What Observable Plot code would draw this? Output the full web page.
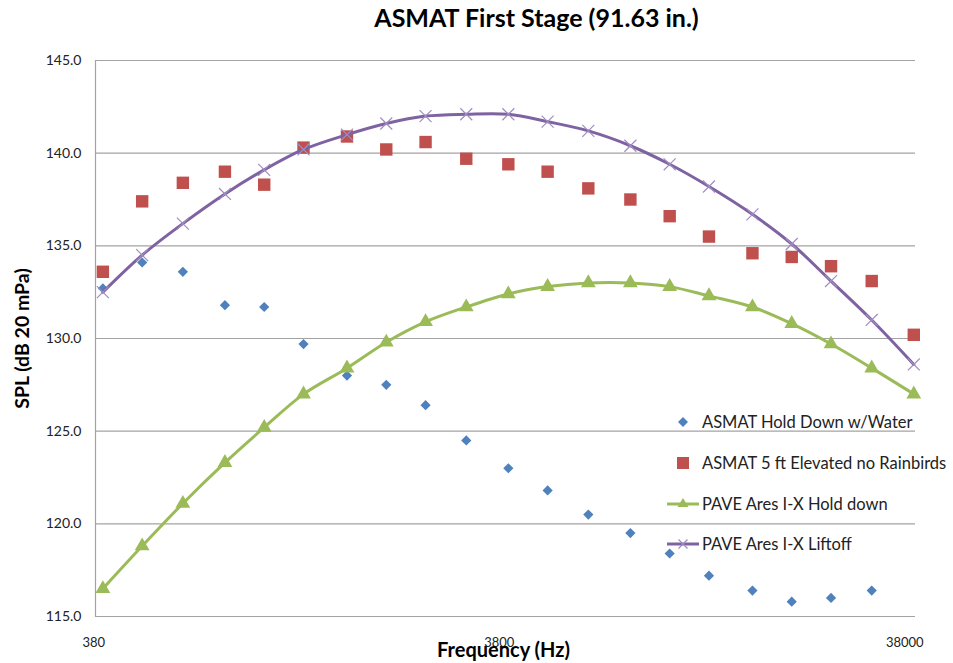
<!DOCTYPE html>
<html><head><meta charset="utf-8">
<script src="https://cdn.jsdelivr.net/npm/d3@7"></script>
<script src="https://cdn.jsdelivr.net/npm/@observablehq/plot@0.6"></script>
<style>
body{margin:0;background:#fff;font-family:Lato,"Open Sans",sans-serif;}
#wrap{position:relative;width:953px;height:663px;overflow:hidden;}
#title{position:absolute;left:536.5px;top:2px;transform:translateX(-50%);white-space:nowrap;font-weight:bold;font-size:25px;color:#000;}
#legend{position:absolute;left:665px;top:0;}
.row{position:absolute;left:0;height:20px;white-space:nowrap;display:flex;align-items:center;font-size:16.5px;color:#222;}
.row svg{display:block;margin-right:1px;}
</style></head>
<body>
<div id="wrap">
<div id="chart"></div>
<div id="title">ASMAT First Stage (91.63 in.)</div>
<div id="legend"></div>
</div>
<script>
// 1/3-octave band centre frequencies (Hz)
const freqs = [400,500,630,800,1000,1250,1600,2000,2500,3150,4000,5000,6300,8000,10000,12500,16000,20000,25000,31500,40000];
// series values (dB)
const holdDownWater = [132.7,134.1,133.6,131.8,131.7,129.7,128.0,127.5,126.4,124.5,123.0,121.8,120.5,119.5,118.4,117.2,116.4,115.8,116.0,116.4,null];
const elevatedNoRainbirds = [133.6,137.4,138.4,139.0,138.3,140.3,140.9,140.2,140.6,139.7,139.4,139.0,138.1,137.5,136.6,135.5,134.6,134.4,133.9,133.1,130.2];
const paveHoldDown = [116.5,118.8,121.1,123.3,125.2,127.0,128.4,129.8,130.9,131.7,132.4,132.8,133.0,133.0,132.8,132.3,131.7,130.8,129.7,128.4,127.0];
const paveLiftoff = [132.5,134.5,136.2,137.8,139.1,140.2,141.0,141.6,142.0,142.1,142.1,141.7,141.2,140.4,139.4,138.2,136.7,135.1,133.1,131.0,128.6];
const seriesNames = ["ASMAT Hold Down w/Water","ASMAT 5 ft Elevated no Rainbirds","PAVE Ares I-X Hold down","PAVE Ares I-X Liftoff"];
const xTicks = [380,3800,38000];
const yTicks = [115,120,125,130,135,140,145];

const toRows = vals => freqs.map((f,i)=>({f, v: vals[i]})).filter(d=>d.v!=null);
const blue = toRows(holdDownWater), red = toRows(elevatedNoRainbirds),
      green = toRows(paveHoldDown), purple = toRows(paveLiftoff);

const C = {blue:"#4F81BD", red:"#C0504D", green:"#9BBB59", purple:"#7F62A1", xmark:"#A08DC0"};

const chart = Plot.plot({
  width:953, height:663,
  marginTop:60, marginBottom:47, marginLeft:95, marginRight:38,
  style:{fontFamily:"Lato, 'Open Sans', sans-serif", background:"#fff", color:"#222"},
  x:{type:"log", domain:[383.6,40390]},
  y:{domain:[115,145]},
  marks:[
    Plot.ruleY(yTicks, {stroke:"#a3a3a3", strokeWidth:1.2}),
    Plot.frame({anchor:"left", stroke:"#a3a3a3", strokeWidth:1.2}),
    Plot.axisY(yTicks, {tickSize:0, tickPadding:14, fontSize:14, tickFormat:d=>d.toFixed(1), label:null}),
    Plot.axisX(xTicks, {tickSize:0, tickPadding:21, fontSize:13, tickFormat:d=>String(d), label:null}),
    Plot.text(["SPL (dB 20 mPa)"], {frameAnchor:"left", textAnchor:"middle", dx:-73, rotate:-90, fontWeight:"bold", fontSize:19.5, fill:"#000"}),
    Plot.text(["Frequency (Hz)"], {frameAnchor:"bottom", textAnchor:"middle", dy:40, dx:-2, fontWeight:"bold", fontSize:20, fill:"#000"}),
    Plot.dot(blue, {x:"f", y:"v", symbol:"diamond2", r:4.6, fill:C.blue, stroke:"none"}),
    Plot.dot(red, {x:"f", y:"v", symbol:"square", r:7, fill:C.red, stroke:"none"}),
    Plot.line(green, {x:"f", y:"v", curve:"catmull-rom", stroke:C.green, strokeWidth:3}),
    Plot.dot(green, {x:"f", y:"v", symbol:"triangle", r:5.5, fill:C.green, stroke:"none"}),
    Plot.line(purple, {x:"f", y:"v", curve:"catmull-rom", stroke:C.purple, strokeWidth:3}),
    Plot.dot(purple, {x:"f", y:"v", symbol:"times", r:5.5, stroke:C.xmark, strokeWidth:1.2})
  ]
});
document.getElementById("chart").appendChild(chart);

// legend
const leg = document.getElementById("legend");
const rowsY = [422, 463, 504, 544];
const legendSym = [
  `<svg width="36" height="20"><path d="M18,5 L23,10 L18,15 L13,10Z" fill="${C.blue}"/></svg>`,
  `<svg width="36" height="20"><rect x="12" y="4" width="12" height="12" fill="${C.red}"/></svg>`,
  `<svg width="36" height="20"><line x1="2" y1="10" x2="34" y2="10" stroke="${C.green}" stroke-width="3"/><path d="M18,4 L23.5,13 L12.5,13Z" fill="${C.green}"/></svg>`,
  `<svg width="36" height="20"><line x1="2" y1="10" x2="34" y2="10" stroke="${C.purple}" stroke-width="3"/><path d="M13.5,5.5 L22.5,14.5 M22.5,5.5 L13.5,14.5" stroke="${C.xmark}" stroke-width="1.2"/></svg>`
];
seriesNames.forEach((name,i)=>{
  const r = document.createElement("div");
  r.className = "row";
  r.style.top = (rowsY[i]-10)+"px";
  r.innerHTML = legendSym[i] + `<span>${name}</span>`;
  leg.appendChild(r);
});
</script>
</body></html>
